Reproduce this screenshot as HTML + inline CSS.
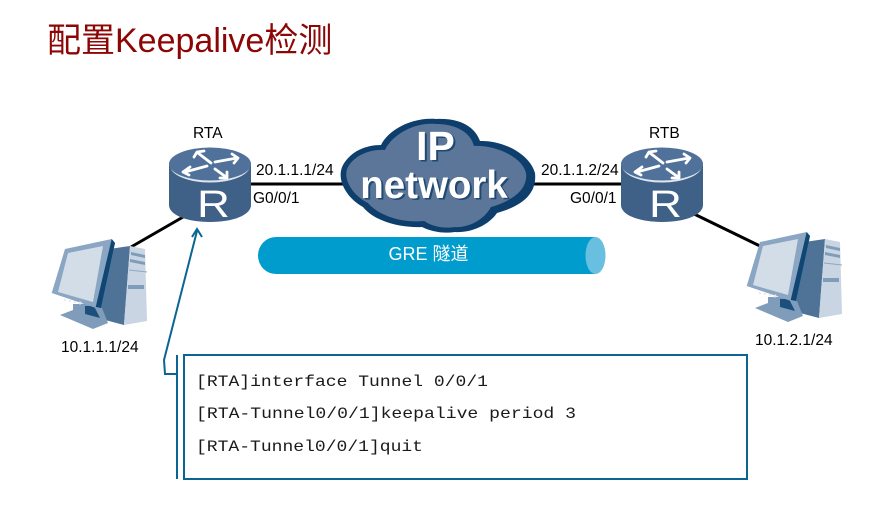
<!DOCTYPE html>
<html><head><meta charset="utf-8"><style>
html,body{margin:0;padding:0;background:#fff}
body{width:870px;height:515px;overflow:hidden}
svg{display:block}
text{font-family:"Liberation Sans","Noto Sans CJK SC",sans-serif}
.l{font-size:15.500px;fill:#000}
.m{font-family:"Liberation Mono","Courier New",monospace;font-size:16px;fill:#1a1a1a}
</style></head><body>
<svg width="870" height="515" viewBox="0 0 870 515" xmlns="http://www.w3.org/2000/svg">
<defs>
<g id="router">
<path d="M-41 17V57C-41 67-23 74 0 74S41 67 41 57V17Z" fill="#3f6087"/>
<ellipse cx="0" cy="17.500" rx="40" ry="17" fill="#dfe6ee"/>
<ellipse cx="0" cy="16" rx="41" ry="16.500" fill="#50719a"/>
<g fill="none" stroke="#fff" stroke-width="2.800" stroke-linecap="round" stroke-linejoin="round">
<path d="M1 15L-12 5M-16 9L-13 4L-6 3"/>
<path d="M5 21L16 29M10 30L17 30L17 24"/>
<path d="M5 14L27 10M22 6L28 10L24 15"/>
<path d="M-3 18L-25 24M-20 19L-27 24L-21 27"/>
</g>
<text transform="translate(3.500 69) scale(1.200 1)" text-anchor="middle" font-size="38" fill="#fff" style="font-family:'Liberation Sans',sans-serif">R</text>
</g>
<g id="pc">
<path d="M96 251L130 246L124 325L90 316Z" fill="#4f7297"/>
<path d="M130 246L145 249L147 321L124 325Z" fill="#c9d5e2"/>
<path d="M131 252L145 255V258L131 255ZM130 259L145 262V265L130 262ZM128 285L144 285V289L128 289Z" fill="#7f9dbb"/>
<path d="M129 270L147 272" stroke="#8ea8c3" stroke-width="1" fill="none"/>
<path d="M60 315L73 310V304H86L102 308L108 323L93 329Z" fill="#7f9dbb"/>
<path d="M85 306H94L100 318L85 314Z" fill="#1d4f7c"/>
<path d="M51.700 293L65 249L111.700 239L115 243L101 308H96Z" fill="#8aa6c2"/>
<path d="M111.700 239L115 243L101 308L95.700 307Z" fill="#0f4674"/>
<path d="M58 292L68 253L103 246L93 302Z" fill="#d3dde8"/>
<circle cx="65" cy="300" r="1" fill="#dfe7f0"/><circle cx="70" cy="301" r="1" fill="#dfe7f0"/><circle cx="75" cy="302" r="1" fill="#dfe7f0"/><circle cx="80" cy="303" r="1.500" fill="#dfe7f0"/>
</g>
</defs>

<text x="47" y="52" font-size="34" fill="#8c0606" style="font-family:'Liberation Sans','Noto Sans CJK SC',sans-serif">配置Keepalive检测</text>

<path d="M131 247L190 213" stroke="#000" stroke-width="3" fill="none"/>
<path d="M690 212L762 247" stroke="#000" stroke-width="3" fill="none"/>
<path d="M245 184H345M530 184H630" stroke="#000" stroke-width="3" fill="none"/>

<use href="#router" x="210" y="148"/>
<use href="#router" x="662" y="148"/>

<path d="M363 207C345 197 336 178 343 165C351 151 366 145 381 145C388 130 412 117 436 119C458 118 474 125 480 141C500 140 529 152 535 173C537 192 525 205 497 213C488 226 470 233 455 232C442 234 430 231 422 227C402 228 375 222 363 207Z" fill="#0e3f6c"/>
<path d="M368 203C352 195 342 178 348 167C355 155 370 149 385 150C392 135 414 122 436 124C454 124 470 131 474 146C494 145 522 156 526 173C528 188 515 200 491 207C484 220 468 228 455 227C442 229 432 226 424 221C404 223 380 217 368 203Z" fill="#5b7698"/>
<g font-weight="bold" text-anchor="middle" style="font-family:'Liberation Sans',sans-serif">
<text x="437.500" y="161.500" font-size="41" fill="#0c3a66" opacity=".75">IP</text>
<text x="435.500" y="160" font-size="41" fill="#fff">IP</text>
<text x="436" y="199.500" font-size="38.500" fill="#0c3a66" opacity=".75">network</text>
<text x="434" y="198" font-size="38.500" fill="#fff">network</text>
</g>

<path d="M276 237H595V274H276A18 18.500 0 0 1 276 237Z" fill="#009ccd"/>
<ellipse cx="595.500" cy="255.500" rx="10" ry="18.500" fill="#69bfe0"/>
<text x="428.500" y="260" text-anchor="middle" font-size="18" fill="#fff">GRE 隧道</text>

<text class="l" x="193" y="138">RTA</text>
<text class="l" x="649" y="138">RTB</text>
<text class="l" x="256" y="175">20.1.1.1/24</text>
<text class="l" x="541" y="175">20.1.1.2/24</text>
<text class="l" x="253" y="203">G0/0/1</text>
<text class="l" x="570" y="203">G0/0/1</text>

<use href="#pc"/>
<use href="#pc" x="695" y="-7"/>

<text class="l" x="61" y="352">10.1.1.1/24</text>
<text class="l" x="755" y="345">10.1.2.1/24</text>

<path d="M177 374H165L164 360L197 231" fill="none" stroke="#0a6592" stroke-width="2"/>
<path d="M192 237L197 229L202 237" fill="none" stroke="#0a6592" stroke-width="2"/>
<path d="M177 355V479" stroke="#0a6592" stroke-width="2" fill="none"/>
<rect x="184" y="355" width="563" height="124" fill="#fff" stroke="#0a6592" stroke-width="2"/>
<text class="m" x="196" y="386" textLength="292" lengthAdjust="spacingAndGlyphs">[RTA]interface Tunnel 0/0/1</text>
<text class="m" x="196" y="418" textLength="380" lengthAdjust="spacingAndGlyphs">[RTA-Tunnel0/0/1]keepalive period 3</text>
<text class="m" x="196" y="451" textLength="227" lengthAdjust="spacingAndGlyphs">[RTA-Tunnel0/0/1]quit</text>
</svg>
</body></html>
